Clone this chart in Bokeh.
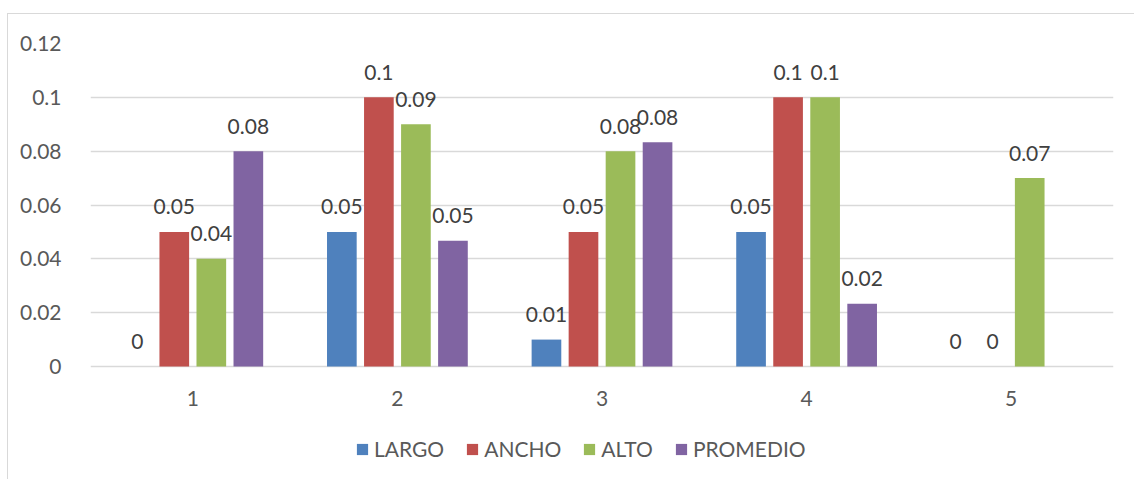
from bokeh.plotting import figure
from bokeh.models import ColumnDataSource, FactorRange, Range1d, Legend, LegendItem, FixedTicker
from bokeh.transform import dodge
from bokeh.core.properties import value
from bokeh.embed import file_html
from bokeh.resources import INLINE
import math

# Data
categories = ["1", "2", "3", "4", "5"]
largo = [0, 0.05, 0.01, 0.05, 0]
ancho = [0.05, 0.1, 0.05, 0.1, 0]
alto = [0.04, 0.09, 0.08, 0.1, 0.07]
promedio = [0.08, 0.0467, 0.0833, 0.0233, float("nan")]

series_names = ["LARGO", "ANCHO", "ALTO", "PROMEDIO"]
series_values = [largo, ancho, alto, promedio]
series_colors = ["#4F81BD", "#C0504D", "#9BBB59", "#8064A2"]

y_ticks = [0, 0.02, 0.04, 0.06, 0.08, 0.1, 0.12]
y_tick_labels = ["0", "0.02", "0.04", "0.06", "0.08", "0.1", "0.12"]

FONT = "Lato"
FONT_SIZE = "21px"
TEXT_COLOR = "#595959"
GRID_COLOR = "#d9d9d9"

# The plotting frame runs down to the bottom edge so the legend can sit
# inside it; the value axis therefore extends a little below zero.
PLOT_H = 323          # pixels between 0 and 0.12
BELOW_H = 114         # pixels from the zero line to the bottom edge
y_max = y_ticks[-1]
y_min = -y_max * BELOW_H / PLOT_H

p = figure(
    x_range=FactorRange(factors=categories, range_padding=0),
    y_range=Range1d(y_min, y_max),
    width=1127, height=466,
    output_backend="svg", toolbar_location=None,
    min_border_left=82, min_border_right=22, min_border_top=29, min_border_bottom=0,
)
p.margin = (13, 0, 0, 7)
p.styles = {"border-left": "1px solid #d9d9d9", "border-top": "1px solid #d9d9d9"}
p.outline_line_color = None
p.background_fill_color = "white"
p.border_fill_color = "white"

# Axes
p.xaxis.fixed_location = 0
p.xaxis.axis_line_color = None
p.xaxis.major_tick_line_color = None
p.xaxis.minor_tick_line_color = None
p.xaxis.major_label_standoff = 18
p.yaxis.axis_line_color = None
p.yaxis.major_tick_line_color = None
p.yaxis.minor_tick_line_color = None
p.yaxis.major_label_standoff = 23
p.yaxis.ticker = FixedTicker(ticks=y_ticks)
p.yaxis.major_label_overrides = {t: lab for t, lab in zip(y_ticks, y_tick_labels)}
for ax in (p.xaxis, p.yaxis):
    ax.major_label_text_font = FONT
    ax.major_label_text_font_size = FONT_SIZE
    ax.major_label_text_color = TEXT_COLOR

p.xgrid.grid_line_color = None
p.ygrid.grid_line_color = GRID_COLOR
p.ygrid.grid_line_width = 1.3
p.ygrid.ticker = FixedTicker(ticks=y_ticks)

# Clustered bars
step = 0.181
bar_w = 0.145
offsets = [-1.5 * step, -0.5 * step, 0.5 * step, 1.5 * step]

def fmt(v):
    if v is None or (isinstance(v, float) and math.isnan(v)):
        return ""
    return f"{round(v, 2):g}"

items = []
for name, vals, color, off in zip(series_names, series_values, series_colors, offsets):
    src = ColumnDataSource(dict(cat=categories, val=vals, label=[fmt(v) for v in vals]))
    r = p.vbar(x=dodge("cat", off, range=p.x_range), top="val", bottom=0, width=bar_w,
               source=src, fill_color=color, line_color=None)
    p.text(x=dodge("cat", off, range=p.x_range), y="val", text="label", source=src,
           text_align="center", text_baseline="middle", y_offset=-25,
           text_font=value(FONT), text_font_size=FONT_SIZE, text_color="#404040")
    items.append(LegendItem(label=name, renderers=[r]))

legend = Legend(
    items=items, orientation="horizontal", location=(265, 19),
    glyph_width=14, glyph_height=14, label_standoff=5, spacing=21,
    padding=0, margin=0, border_line_color=None, background_fill_alpha=0,
    label_text_font=FONT, label_text_font_size=FONT_SIZE, label_text_color=TEXT_COLOR,
    label_height=20,
)
p.add_layout(legend, "center")

open("out.html", "w").write(file_html(p, INLINE))
